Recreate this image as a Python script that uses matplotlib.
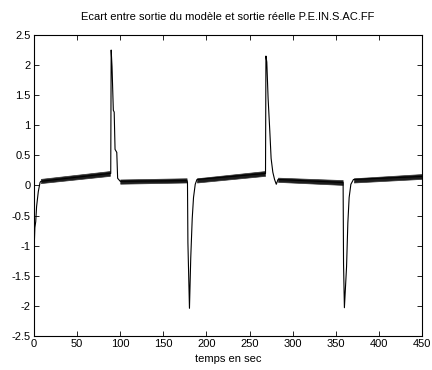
import numpy as np
import matplotlib
matplotlib.use('Agg')
import matplotlib.pyplot as plt

plt.rcParams['font.family'] = ['Liberation Sans', 'DejaVu Sans']

# trace: (time in s, value)
t_trace = [0, 1, 2, 3, 5, 7, 8,
           88, 89, 89.5, 90.5, 92, 93, 94, 96, 97, 100,
           177.5, 178, 178.5, 180.3, 181.8, 183.5, 185, 187, 189,
           268.5, 269, 270, 271.5, 273.5, 275, 277, 279, 281, 283,
           358.5, 359, 360, 362.5, 364, 365.5, 367.5, 370.5,
           450]
v_trace = [-1.1, -0.7, -0.6, -0.35, -0.1, 0.05, 0.07,
           0.2, 0.2, 2.25, 1.97, 1.25, 1.22, 0.6, 0.55, 0.12, 0.07,
           0.08, 0.05, -0.95, -2.04, -1.2, -0.55, -0.2, 0.02, 0.1,
           0.2, 2.15, 2.05, 1.45, 0.9, 0.45, 0.22, 0.1, 0.02, 0.1,
           0.05, -1.3, -2.03, -1.35, -0.62, -0.2, 0.02, 0.1,
           0.15]

# noisy baseline segments: start/end time, lower/upper envelope
band_t0 = [8, 100, 189, 283, 371]
band_t1 = [88, 177, 268, 358, 450]
band_lo0 = [0.04, 0.03, 0.05, 0.06, 0.05]
band_hi0 = [0.11, 0.10, 0.12, 0.13, 0.12]
band_lo1 = [0.16, 0.05, 0.16, 0.01, 0.11]
band_hi1 = [0.24, 0.12, 0.24, 0.09, 0.19]

title = 'Ecart entre sortie du modèle et sortie réelle P.E.IN.S.AC.FF'
xlabel = 'temps en sec'
xticks = [0, 50, 100, 150, 200, 250, 300, 350, 400, 450]
yticks = [-2.5, -2, -1.5, -1, -0.5, 0, 0.5, 1, 1.5, 2, 2.5]

fig = plt.figure(figsize=(4.32, 3.70), dpi=100)
ax = fig.add_axes([34 / 432, 34 / 370, 388 / 432, 301 / 370])

ax.plot(t_trace, v_trace, color='black', lw=0.8)
for i in range(len(band_t0)):
    ax.fill_between([band_t0[i], band_t1[i]], [band_lo0[i], band_lo1[i]],
                    [band_hi0[i], band_hi1[i]], facecolor='#1c1c1c',
                    edgecolor='#333333', lw=0.5)

ax.set_xlim(0, 450)
ax.set_ylim(-2.5, 2.5)
ax.set_xticks(xticks)
ax.set_yticks(yticks)
ax.set_xticklabels([str(x) for x in xticks])
ax.set_yticklabels(['%g' % y for y in yticks])
ax.tick_params(direction='in', length=3.5, width=0.6, labelsize=8,
               top=True, right=True, pad=2.5)
for s in ax.spines.values():
    s.set_linewidth(0.8)

ax.set_title(title, fontsize=8, pad=11)
ax.set_xlabel(xlabel, fontsize=8, labelpad=3)

fig.savefig('out.png', dpi=100)
